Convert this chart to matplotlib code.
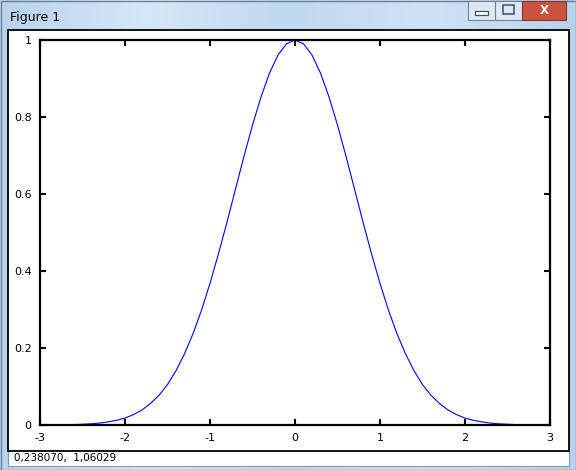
#imports
import numpy as np
import matplotlib
matplotlib.use('Agg')
import matplotlib.pyplot as plt
from matplotlib.patches import Rectangle
from matplotlib.colors import LinearSegmentedColormap
#________________________

xs = [-3.0, -2.9, -2.8, -2.7, -2.6, -2.5, -2.4, -2.3, -2.2, -2.1,
      -2.0, -1.9, -1.8, -1.7, -1.6, -1.5, -1.4, -1.3, -1.2, -1.1,
      -1.0, -0.9, -0.8, -0.7, -0.6, -0.5, -0.4, -0.3, -0.2, -0.1,
      0.0, 0.1, 0.2, 0.3, 0.4, 0.5, 0.6, 0.7, 0.8, 0.9,
      1.0, 1.1, 1.2, 1.3, 1.4, 1.5, 1.6, 1.7, 1.8, 1.9,
      2.0, 2.1, 2.2, 2.3, 2.4, 2.5, 2.6, 2.7, 2.8, 2.9, 3.0]
ys = [0.000, 0.000, 0.000, 0.001, 0.001, 0.002, 0.003, 0.005, 0.008, 0.012,
      0.018, 0.027, 0.039, 0.056, 0.077, 0.105, 0.141, 0.185, 0.237, 0.298,
      0.368, 0.445, 0.527, 0.613, 0.698, 0.779, 0.852, 0.914, 0.961, 0.990,
      1.000, 0.990, 0.961, 0.914, 0.852, 0.779, 0.698, 0.613, 0.527, 0.445,
      0.368, 0.298, 0.237, 0.185, 0.141, 0.105, 0.077, 0.056, 0.039, 0.027,
      0.018, 0.012, 0.008, 0.005, 0.003, 0.002, 0.001, 0.001, 0.000, 0.000, 0.000]
xticks = [-3, -2, -1, 0, 1, 2, 3]
yticks = [0, 0.2, 0.4, 0.6, 0.8, 1]
ylabels = ['0', '0.2', '0.4', '0.6', '0.8', '1']
title = "Figure 1"
status = "0,238070,  1,06029"

W, H = 576, 470
fig = plt.figure(figsize=(W/100, H/100), dpi=100)
fig.patch.set_facecolor('#c3daf1')

# soft glassy window background
bg = fig.add_axes([0, 0, 1, 1], zorder=-10)
bg.axis('off')
cm = LinearSegmentedColormap.from_list('win', ['#b9d3ee', '#d6e7f7', '#c0d8f0', '#cfe2f5', '#b8d2ec'])
bg.imshow([np.linspace(0, 1, 200)], cmap=cm, aspect='auto', extent=[0, 1, 0, 1])

def box(x0, y0, w, h, fc, ec='none', lw=0, z=-5):
    # pixel rect, top-left origin
    r = Rectangle((x0/W, 1-(y0+h)/H), w/W, h/H, transform=fig.transFigure,
                  facecolor=fc, edgecolor=ec, linewidth=lw, zorder=z)
    fig.patches.append(r)
    return r

#window chrome
box(0.5, 0.5, W-1, H-1, 'none', ec='#6b7f96', lw=1.0, z=-8)
box(8, 30, 561, 436, 'white', ec='#8497ad', lw=0.8, z=-7)
box(8, 30, 561, 421, 'white', ec='black', lw=1.3, z=-6)
fig.text(10/W, 1-17/H, title, fontsize=9, va='center', ha='left', color='black')
fig.text(14/W, 1-458/H, status, fontsize=7.5, va='center', ha='left', color='black')

# buttons
box(468, 1, 27, 19, '#dde8f4', ec='#6f849c', lw=0.8, z=-4)
box(495, 1, 27, 19, '#dde8f4', ec='#6f849c', lw=0.8, z=-4)
box(522, 1, 44, 19, '#c9533f', ec='#7a3a30', lw=0.8, z=-4)
box(475, 11, 13, 4, 'white', ec='#3f4f63', lw=0.9, z=-3)
box(503, 5, 11, 9, 'none', ec='#3f4f63', lw=1.1, z=-3)
fig.text(544/W, 1-10/H, 'X', fontsize=8.5, fontweight='bold', color='white',
         ha='center', va='center')

#axes
ax = fig.add_axes([40/W, 1-425/H, 510/W, 385/H])
ax.plot(xs, ys, color='blue', linewidth=0.8, clip_on=False)
ax.set_xlim(-3, 3)
ax.set_ylim(0, 1)
ax.set_xticks(xticks)
ax.set_xticklabels([str(t) for t in xticks])
ax.set_yticks(yticks)
ax.set_yticklabels(ylabels)
for s in ax.spines.values():
    s.set_linewidth(1.6)
ax.tick_params(direction='in', length=4, width=1.5, labelsize=8,
               top=True, right=True, pad=6)

fig.savefig('out.png', dpi=100)
